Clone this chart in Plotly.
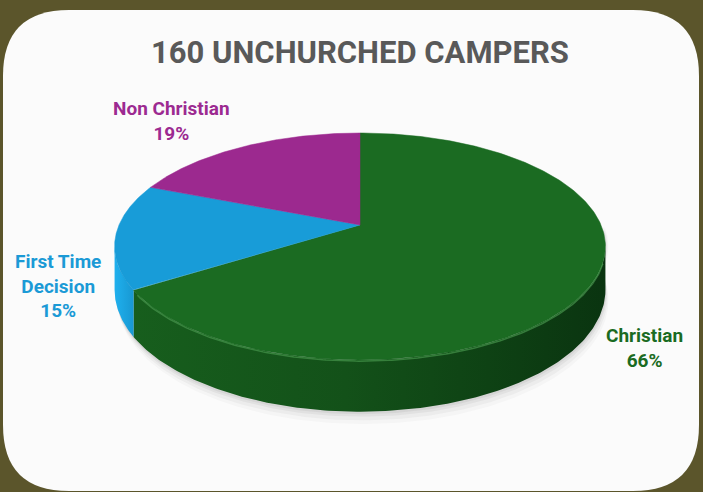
import numpy as np
import plotly.graph_objects as go

# ---- data ----
categories = ["Christian", "First Time Decision", "Non Christian"]
values = [66, 15, 19]
label_lines = [["Christian"], ["First Time", "Decision"], ["Non Christian"]]
title_text = "160 UNCHURCHED CAMPERS"

# ---- style / geometry ----
top_colors = ["#1b6b22", "#189cd8", "#9c298f"]
side_scales = [
    [[0, "#175e1d"], [0.45, "#135119"], [0.75, "#0e4214"], [1, "#0a3410"]],
    [[0, "#1fb0ee"], [1, "#1898d2"]],
    [[0, "#7a1f70"], [1, "#6a1a62"]],
]
label_colors = ["#1a6b22", "#1b9ad6", "#9c2a91"]
label_pos = [(644, 348), (58, 286), (171, 121)]

W, H = 703, 492
cx, ay = 360.0, 225.0      # apex of the pie on screen
A, B, k = 109.4, 241.0, 0.189  # perspective ellipse parameters
depth = 42.0

def proj(theta_deg, drop=0.0):
    t = np.radians(theta_deg)
    u, v = np.sin(t), np.cos(t)
    s = 1.0 / (1.0 + k * v)
    return cx + B * u * s, ay - A * v * s + drop * s

total = float(sum(values))
bounds = [0.0]
for val in values:
    bounds.append(bounds[-1] + 360.0 * val / total)

ext_r = np.degrees(np.arccos(-k))          # right extreme angle
ext_l = 360.0 - ext_r                      # left extreme angle

fig = go.Figure()

# soft shadow under the pie
th_front = np.linspace(ext_r - 10, ext_l + 10, 200)
for off, op in [(10, 0.035), (7, 0.05), (4, 0.07), (2, 0.08)]:
    xs_t, ys_t = proj(th_front, 0)
    xs_b, ys_b = proj(th_front, depth + off)
    xs = np.concatenate([xs_t + off * 0.3, xs_b[::-1] + off * 0.3])
    ys = np.concatenate([ys_t, ys_b[::-1]])
    fig.add_trace(go.Scatter(x=xs, y=ys, fill="toself", mode="lines",
                             line=dict(width=0), fillcolor=f"rgba(80,80,80,{op})",
                             hoverinfo="skip", showlegend=False))

# sides (front-visible portion)
order = [2, 0, 1]
for i in order:
    a0, a1 = bounds[i], bounds[i + 1]
    lo, hi = max(a0, ext_r), min(a1, ext_l)
    if hi <= lo:
        continue
    th = np.linspace(lo, hi, 200)
    xt, yt = proj(th, 0)
    xb, yb = proj(th, depth)
    xs = np.concatenate([xt, xb[::-1], xt[:1]])
    ys = np.concatenate([yt, yb[::-1], yt[:1]])
    fig.add_trace(go.Scatter(
        x=xs, y=ys, fill="toself", mode="lines", line=dict(width=0),
        fillcolor=top_colors[i],
        fillgradient=dict(type="horizontal", colorscale=side_scales[i]),
        hoverinfo="skip", showlegend=False))

# top faces
for i in range(len(values)):
    a0, a1 = bounds[i], bounds[i + 1]
    th = np.linspace(a0, a1, 300)
    xt, yt = proj(th, 0)
    xs = np.concatenate([[cx], xt, [cx]])
    ys = np.concatenate([[ay], yt, [ay]])
    fig.add_trace(go.Scatter(
        x=xs, y=ys, fill="toself", mode="lines",
        line=dict(width=0.5, color=top_colors[i]),
        fillcolor=top_colors[i], name=categories[i],
        hoverinfo="name", showlegend=False))

# rim highlight along the front of the green slice
th = np.linspace(max(bounds[0], ext_r) + 8, min(bounds[1], ext_l) - 2, 200)
xr, yr = proj(th, 1.0)
fig.add_trace(go.Scatter(x=xr, y=yr, mode="lines",
                         line=dict(width=1.5, color="rgba(70,150,75,0.7)"),
                         hoverinfo="skip", showlegend=False))

# labels
annotations = [dict(x=360, y=52, xref="x", yref="y", text="<b>" + title_text + "</b>",
                    showarrow=False, font=dict(family="Roboto", size=31, color="#595959"))]
for i in range(len(values)):
    pct = round(100 * values[i] / total)
    txt = "<br>".join(label_lines[i] + [f"{pct}%"])
    annotations.append(dict(x=label_pos[i][0], y=label_pos[i][1], xref="x", yref="y",
                            text="<b>" + txt + "</b>", showarrow=False,
                            font=dict(family="Roboto", size=19, color=label_colors[i])))

r = 66
x0, y0, x1, y1 = 3, 10, 699, 491
path = (f"M {x0+r},{y0} L {x1-r},{y0} Q {x1},{y0} {x1},{y0+r} L {x1},{y1-r} "
        f"Q {x1},{y1} {x1-r},{y1} L {x0+r},{y1} Q {x0},{y1} {x0},{y1-r} "
        f"L {x0},{y0+r} Q {x0},{y0} {x0+r},{y0} Z")

fig.update_layout(
    width=W, height=H, margin=dict(l=0, r=0, t=0, b=0),
    paper_bgcolor="#5b552b", plot_bgcolor="rgba(0,0,0,0)",
    xaxis=dict(range=[0, W], visible=False, fixedrange=True),
    yaxis=dict(range=[H, 0], visible=False, fixedrange=True),
    shapes=[dict(type="path", path=path, xref="x", yref="y",
                 fillcolor="#fbfbfb", line=dict(width=0), layer="below")],
    annotations=annotations,
)
fig.write_html("out.html", config={"displayModeBar": False},
               post_script="document.body.style.margin='0';document.body.style.overflow='hidden';document.body.style.background='#5b552b';")
